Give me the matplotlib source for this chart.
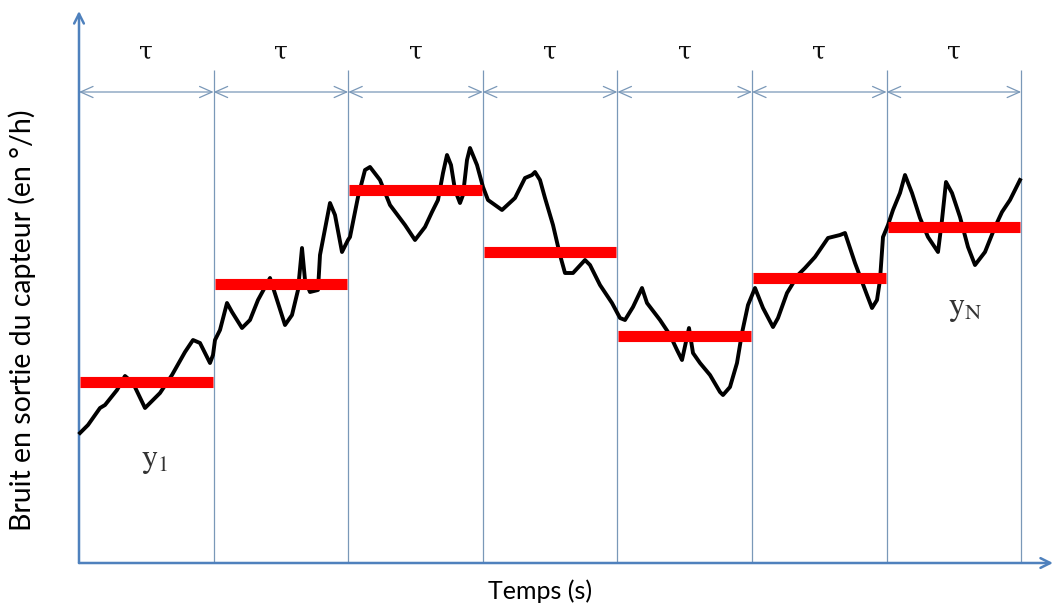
import numpy as np
import matplotlib.pyplot as plt

plt.rcParams['mathtext.fontset'] = 'stix'

# Sample index (time) and sensor noise amplitude
TAU = 134.6
n_periods = 7

t = [1, 9, 21, 26, 38, 46, 54, 66, 81, 93, 106, 114, 121, 131, 134,
     136, 141, 148, 153, 163, 171, 179, 191, 198, 206, 213, 219, 223, 226, 231, 239, 241, 251, 256, 263, 269,
     271, 279, 286, 291, 301, 311, 326, 336, 346, 353, 359, 364, 368, 372, 376, 381, 384, 388, 391, 398, 404,
     409, 423, 436, 446, 453, 456, 461, 466, 474, 481, 486, 494, 506, 511, 521, 533, 541,
     546, 554, 563, 568, 581, 591, 598, 603, 610, 614, 621, 631, 641, 644, 651, 658, 663, 669, 676,
     684, 694, 699, 708, 719, 726, 736, 749, 761, 766, 776, 788, 793, 798, 801, 804, 809,
     814, 821, 826, 833, 841, 849, 859, 863, 867, 873, 881, 889, 896, 906, 916, 923, 931, 941]
signal = [130, 138, 155, 158, 173, 187, 180, 155, 170, 188, 211, 223, 220, 200, 208,
          223, 233, 260, 251, 235, 243, 263, 285, 263, 238, 248, 273, 315, 283, 271, 273, 308, 360, 348, 311, 323,
          326, 366, 393, 396, 383, 358, 338, 323, 336, 351, 363, 390, 408, 398, 373, 360, 368, 403, 415, 398, 376,
          363, 353, 365, 385, 388, 391, 383, 365, 338, 308, 290, 290, 303, 298, 278, 260, 245,
          243, 256, 275, 260, 243, 228, 213, 203, 235, 210, 200, 188, 171, 168, 176, 200, 230, 258, 275,
          255, 236, 245, 270, 288, 295, 306, 325, 328, 330, 300, 268, 255, 263, 283, 326, 338,
          353, 370, 388, 370, 345, 326, 311, 343, 381, 370, 346, 316, 298, 311, 336, 351, 363, 383]

# Mean level on each tau window
means = [181, 279, 373, 311, 227, 285, 336]

axis_blue = '#4f81bd'
grid_blue = '#7a98b8'

fig = plt.figure(figsize=(10.55, 6.1), dpi=100)
ax = fig.add_axes([0, 0, 1, 1])
ax.set_xlim(-79, 976)
ax.set_ylim(-47, 563)
ax.axis('off')

edges = np.arange(n_periods + 1) * TAU

# vertical separators
ax.vlines(edges[1:], 0, 493, color=grid_blue, lw=0.9)

# double arrows with tau labels
for k in range(n_periods):
    ax.annotate('', xy=(edges[k + 1], 471), xytext=(edges[k], 471),
                arrowprops=dict(arrowstyle='<->,head_length=0.9,head_width=0.4',
                                color=grid_blue, lw=0.9, shrinkA=0, shrinkB=0))
    ax.text((edges[k] + edges[k + 1]) / 2, 511, 'τ', ha='center', va='center',
            fontsize=18, family='DejaVu Serif', color='#111111')

# main axes with arrows
ax.annotate('', xy=(0, 552), xytext=(0, 0),
            arrowprops=dict(arrowstyle='->,head_length=0.7,head_width=0.35',
                            color=axis_blue, lw=1.8, shrinkA=0, shrinkB=0))
ax.annotate('', xy=(974, 0), xytext=(0, 0),
            arrowprops=dict(arrowstyle='->,head_length=0.7,head_width=0.35',
                            color=axis_blue, lw=1.8, shrinkA=0, shrinkB=0))

# noisy sensor signal
ax.plot(t, signal, color='black', lw=2.8, solid_joinstyle='round', zorder=3)

# window averages
for k, m in enumerate(means):
    ax.plot([edges[k] + 1, edges[k + 1] - 1], [m, m], color='#ff0000', lw=8,
            solid_capstyle='butt', zorder=4)

ax.text(76, 103, r'$\mathrm{y}_{1}$', ha='center', va='center', fontsize=23, color='#333333')
ax.text(886, 254, r'$\mathrm{y}_{\mathrm{N}}$', ha='center', va='center', fontsize=23, color='#333333')

ax.text(-57, 243, 'Bruit en sortie du capteur (en °/h)', rotation=90, ha='center', va='center',
        fontsize=20.5, family='Lato')
ax.text(461, -28, 'Temps (s)', ha='center', va='center', fontsize=18, family='Lato')

fig.savefig('out.png', dpi=100)
